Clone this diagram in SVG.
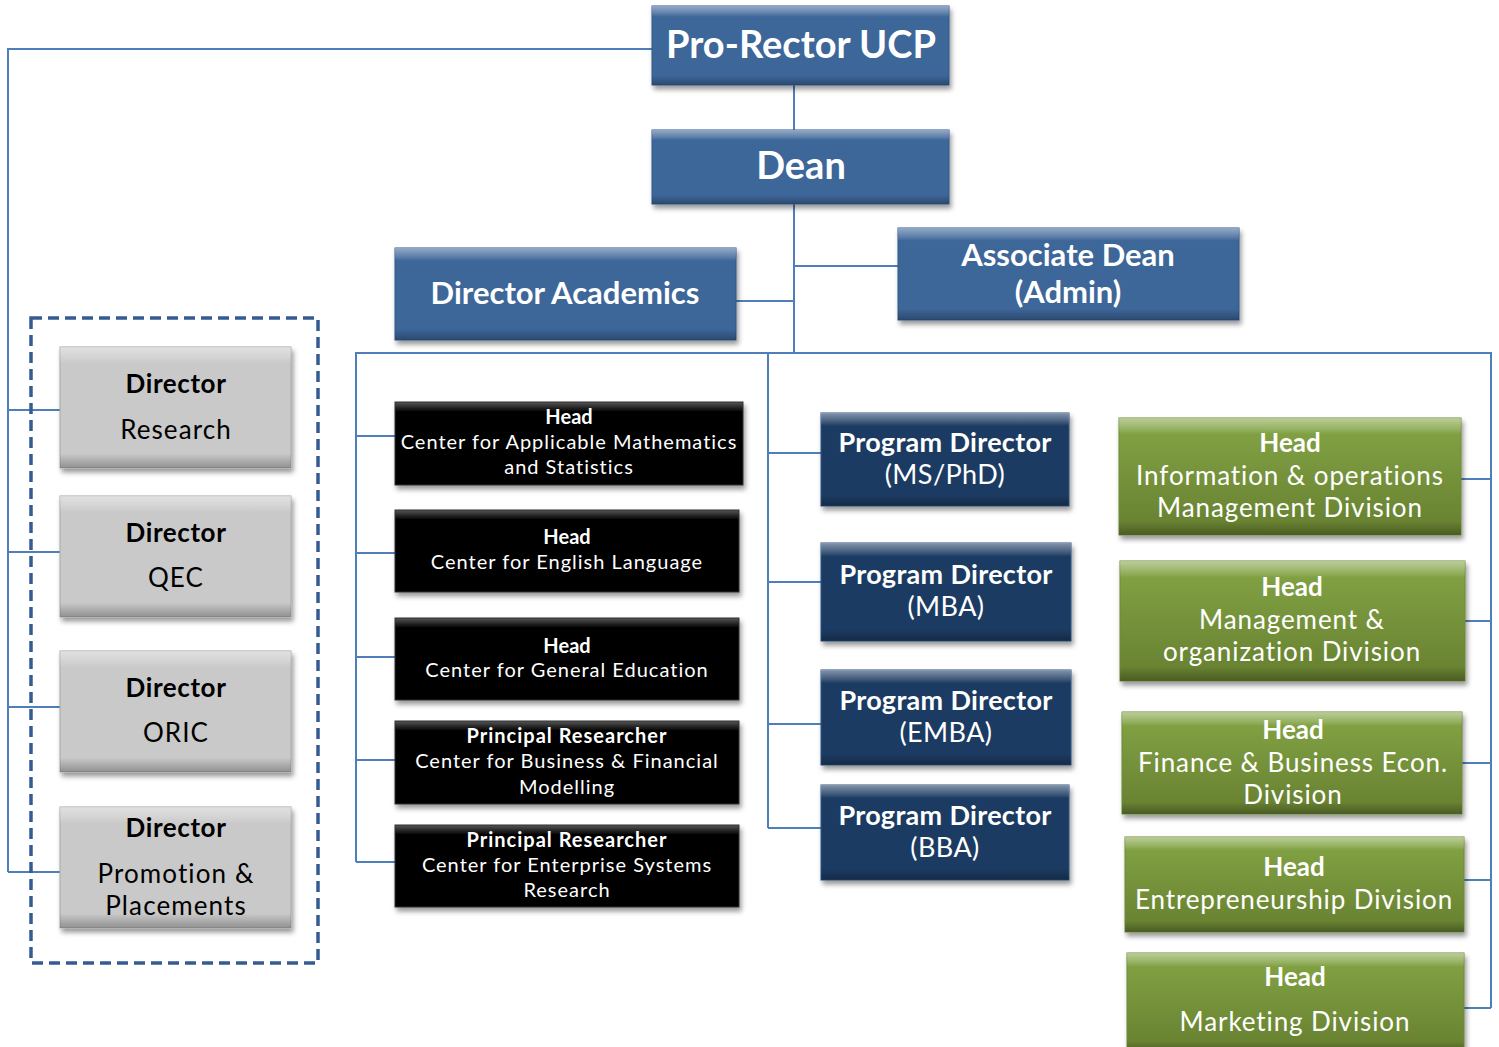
<svg xmlns="http://www.w3.org/2000/svg" width="1499" height="1047" viewBox="0 0 1499 1047">
  <defs>
    <filter id="shadow" x="-5%" y="-10%" width="112%" height="130%">
      <feDropShadow dx="2" dy="4" stdDeviation="2.5" flood-color="#000" flood-opacity="0.4"/>
    </filter>
    <!-- bevel highlight/shade laid over every box fill -->
    <linearGradient id="bevel" x1="0" y1="0" x2="0" y2="1">
      <stop offset="0" stop-color="#fff" stop-opacity="0.45"/>
      <stop offset="0.09" stop-color="#fff" stop-opacity="0.18"/>
      <stop offset="0.14" stop-color="#fff" stop-opacity="0"/>
      <stop offset="0.88" stop-color="#000" stop-opacity="0"/>
      <stop offset="1" stop-color="#000" stop-opacity="0.28"/>
    </linearGradient>
    <linearGradient id="gGreen" x1="0" y1="0" x2="0" y2="1">
      <stop offset="0" stop-color="#84a545"/>
      <stop offset="1" stop-color="#667f30"/>
    </linearGradient>
    <linearGradient id="gBlack" x1="0" y1="0" x2="0" y2="1">
      <stop offset="0" stop-color="#555"/>
      <stop offset="0.12" stop-color="#000"/>
      <stop offset="1" stop-color="#000"/>
    </linearGradient>
  </defs>
  <style>
    .box { filter: url(#shadow); }
    .blue { fill: #3d6699; stroke: #35598a; stroke-width: 1; }
    .navy { fill: #1d3a62; stroke: #2e5280; stroke-width: 1; }
    .black { fill: url(#gBlack); stroke: #333; stroke-width: 1; }
    .green { fill: url(#gGreen); stroke: #6c8a36; stroke-width: 1; }
    .gray { fill: #c9c9c9; stroke: #a8a8a8; stroke-width: 1; }
    .bev { fill: url(#bevel); }
    text { font-family: Lato, "Open Sans", "Liberation Sans", sans-serif; text-anchor: middle; }
    .w { fill: #fff; }
    .k { fill: #000; }
    .b { font-weight: bold; }
    .t36 { font-size: 38px; }
    .t30 { font-size: 31px; }
    .t26 { font-size: 26px; }
    .pd { font-size: 27px; letter-spacing: 0.3px; }
    .pr { font-size: 27px; letter-spacing: 0.4px; }
    .gr { font-size: 26px; letter-spacing: 0.9px; }
    .gb { font-size: 26px; letter-spacing: 0.6px; }
    .gy { font-size: 26px; letter-spacing: 1.1px; }
    .t20 { font-size: 20px; }
    .bl { font-size: 20px; letter-spacing: 1px; }
    .blb { font-size: 20px; letter-spacing: 1px; }
    .conn { fill: none; stroke: #4f7fbb; stroke-width: 2; }
    .dash { fill: none; stroke: #355c92; stroke-width: 3.5; stroke-dasharray: 11 6; }
  </style>

  <!-- connectors -->
  <g id="connectors">
    <path class="conn" d="M652 49 H8 V872"/>
    <path class="conn" d="M8 410 H60 M8 552 H60 M8 707 H60 M8 872 H60"/>
    <path class="conn" d="M794 85 V130"/>
    <path class="conn" d="M794 204 V353"/>
    <path class="conn" d="M794 266 H898"/>
    <path class="conn" d="M736 301 H794"/>
    <path class="conn" d="M356 862 V353 H1491 V1008"/>
    <path class="conn" d="M356 436 H395 M356 553 H395 M356 657 H395 M356 760 H395 M356 862 H395"/>
    <path class="conn" d="M768 353 V828"/>
    <path class="conn" d="M768 453 H821 M768 582 H821 M768 724 H821 M768 828 H821"/>
    <path class="conn" d="M1461 479 H1491 M1465 621 H1491 M1462 763 H1491 M1464 880 H1491 M1464 1008 H1491"/>
  </g>

  <!-- dashed grouping frame -->
  <rect class="dash" x="31" y="318" width="287" height="645"/>

  <g id="pro-rector">
    <rect class="box blue" x="652" y="6" width="297" height="79"/>
    <rect class="bev" x="652" y="6" width="297" height="79"/>
    <text class="w b t36" x="801" y="58">Pro-Rector UCP</text>
  </g>
  <g id="dean">
    <rect class="box blue" x="652" y="130" width="297" height="74"/>
    <rect class="bev" x="652" y="130" width="297" height="74"/>
    <text class="w b t36" x="801" y="179">Dean</text>
  </g>
  <g id="director-academics">
    <rect class="box blue" x="395" y="248" width="341" height="92"/>
    <rect class="bev" x="395" y="248" width="341" height="92"/>
    <text class="w b t30" x="565" y="304">Director Academics</text>
  </g>
  <g id="associate-dean">
    <rect class="box blue" x="898" y="228" width="341" height="92"/>
    <rect class="bev" x="898" y="228" width="341" height="92"/>
    <text class="w b t30" x="1068" y="266">Associate Dean</text>
    <text class="w b t30" x="1068" y="303">(Admin)</text>
  </g>

  <!-- directors reporting to the Pro-Rector -->
  <g id="dir-research">
    <rect class="box gray" x="60" y="347" width="231" height="121"/>
    <rect class="bev" x="60" y="347" width="231" height="121"/>
    <text class="k b gb" x="176" y="393">Director</text>
    <text class="k gy" x="176" y="439">Research</text>
  </g>
  <g id="dir-qec">
    <rect class="box gray" x="60" y="496" width="231" height="121"/>
    <rect class="bev" x="60" y="496" width="231" height="121"/>
    <text class="k b gb" x="176" y="542">Director</text>
    <text class="k gy" x="176" y="587">QEC</text>
  </g>
  <g id="dir-oric">
    <rect class="box gray" x="60" y="651" width="231" height="121"/>
    <rect class="bev" x="60" y="651" width="231" height="121"/>
    <text class="k b gb" x="176" y="697">Director</text>
    <text class="k gy" x="176" y="742">ORIC</text>
  </g>
  <g id="dir-placements">
    <rect class="box gray" x="60" y="807" width="231" height="121"/>
    <rect class="bev" x="60" y="807" width="231" height="121"/>
    <text class="k b gb" x="176" y="837">Director</text>
    <text class="k gy" x="176" y="883">Promotion &amp;</text>
    <text class="k gy" x="176" y="915">Placements</text>
  </g>

  <!-- research centers -->
  <g id="center-math">
    <rect class="box black" x="395" y="402" width="348" height="83"/>
    <text class="w b t20" x="569" y="424">Head</text>
    <text class="w bl" x="569" y="449">Center for Applicable Mathematics</text>
    <text class="w bl" x="569" y="474">and Statistics</text>
  </g>
  <g id="center-english">
    <rect class="box black" x="395" y="510" width="344" height="82"/>
    <text class="w b t20" x="567" y="544">Head</text>
    <text class="w bl" x="567" y="569">Center for English Language</text>
  </g>
  <g id="center-gened">
    <rect class="box black" x="395" y="618" width="344" height="82"/>
    <text class="w b t20" x="567" y="653">Head</text>
    <text class="w bl" x="567" y="677">Center for General Education</text>
  </g>
  <g id="center-finance">
    <rect class="box black" x="395" y="721" width="344" height="83"/>
    <text class="w b blb" x="567" y="743">Principal Researcher</text>
    <text class="w bl" x="567" y="768">Center for Business &amp; Financial</text>
    <text class="w bl" x="567" y="794">Modelling</text>
  </g>
  <g id="center-enterprise">
    <rect class="box black" x="395" y="825" width="344" height="82"/>
    <text class="w b blb" x="567" y="847">Principal Researcher</text>
    <text class="w bl" x="567" y="872">Center for Enterprise Systems</text>
    <text class="w bl" x="567" y="897">Research</text>
  </g>

  <!-- program directors -->
  <g id="pd-msphd">
    <rect class="box navy" x="821" y="413" width="248" height="93"/>
    <rect class="bev" x="821" y="413" width="248" height="93"/>
    <text class="w b pd" x="945" y="452">Program Director</text>
    <text class="w pr" x="945" y="484">(MS/PhD)</text>
  </g>
  <g id="pd-mba">
    <rect class="box navy" x="821" y="543" width="250" height="98"/>
    <rect class="bev" x="821" y="543" width="250" height="98"/>
    <text class="w b pd" x="946" y="584">Program Director</text>
    <text class="w pr" x="946" y="616">(MBA)</text>
  </g>
  <g id="pd-emba">
    <rect class="box navy" x="821" y="670" width="250" height="95"/>
    <rect class="bev" x="821" y="670" width="250" height="95"/>
    <text class="w b pd" x="946" y="710">Program Director</text>
    <text class="w pr" x="946" y="742">(EMBA)</text>
  </g>
  <g id="pd-bba">
    <rect class="box navy" x="821" y="785" width="248" height="95"/>
    <rect class="bev" x="821" y="785" width="248" height="95"/>
    <text class="w b pd" x="945" y="825">Program Director</text>
    <text class="w pr" x="945" y="857">(BBA)</text>
  </g>

  <!-- academic divisions -->
  <g id="div-iom">
    <rect class="box green" x="1119" y="418" width="342" height="117"/>
    <rect class="bev" x="1119" y="418" width="342" height="117"/>
    <text class="w b t26" x="1290" y="452">Head</text>
    <text class="w gr" x="1290" y="485">Information &amp; operations</text>
    <text class="w gr" x="1290" y="517">Management Division</text>
  </g>
  <g id="div-mgmt">
    <rect class="box green" x="1120" y="561" width="345" height="120"/>
    <rect class="bev" x="1120" y="561" width="345" height="120"/>
    <text class="w b t26" x="1292" y="596">Head</text>
    <text class="w gr" x="1292" y="629">Management &amp;</text>
    <text class="w gr" x="1292" y="661">organization Division</text>
  </g>
  <g id="div-finance">
    <rect class="box green" x="1122" y="712" width="340" height="102"/>
    <rect class="bev" x="1122" y="712" width="340" height="102"/>
    <text class="w b t26" x="1293" y="739">Head</text>
    <text class="w gr" x="1293" y="772">Finance &amp; Business Econ.</text>
    <text class="w gr" x="1293" y="804">Division</text>
  </g>
  <g id="div-entrepreneurship">
    <rect class="box green" x="1125" y="837" width="339" height="95"/>
    <rect class="bev" x="1125" y="837" width="339" height="95"/>
    <text class="w b t26" x="1294" y="876">Head</text>
    <text class="w gr" x="1294" y="909">Entrepreneurship Division</text>
  </g>
  <g id="div-marketing">
    <rect class="box green" x="1127" y="953" width="337" height="100"/>
    <rect class="bev" x="1127" y="953" width="337" height="100"/>
    <text class="w b t26" x="1295" y="986">Head</text>
    <text class="w gr" x="1295" y="1031">Marketing Division</text>
  </g>
</svg>
